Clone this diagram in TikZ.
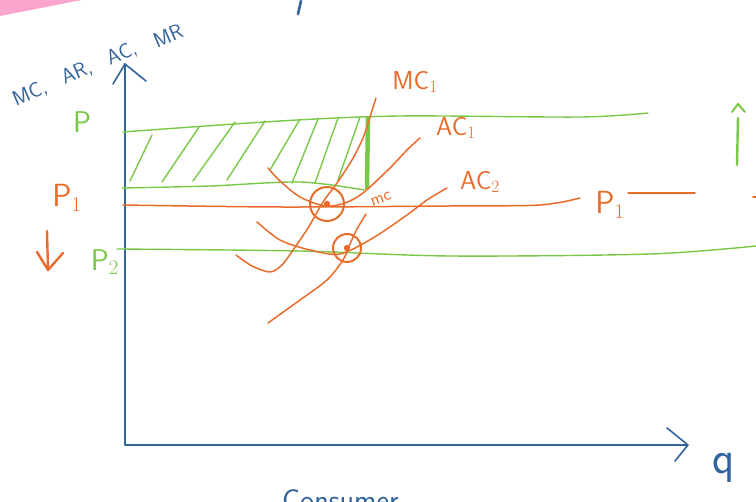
\documentclass[tikz,border=0pt]{standalone}
\usetikzlibrary{calc}
\definecolor{axisblue}{RGB}{50,100,155}
\definecolor{sgreen}{RGB}{122,200,72}
\definecolor{sorange}{RGB}{234,108,42}
\definecolor{spink}{RGB}{250,165,205}
\begin{document}
\begin{tikzpicture}[x=1pt,y=-1pt,line cap=round,line join=round,
  axisln/.style={axisblue,line width=1.6pt},
  gln/.style={sgreen,line width=1.4pt},
  gthick/.style={sgreen,line width=4.5pt},
  oln/.style={sorange,line width=1.5pt},
  otxt/.style={sorange,font=\sffamily\fontsize{26}{28}\selectfont,inner sep=0pt},
  gtxt/.style={sgreen,font=\sffamily\fontsize{30}{32}\selectfont,inner sep=0pt},
  btxt/.style={axisblue,font=\sffamily\fontsize{21}{23}\selectfont,inner sep=0pt,rotate=23}]
\useasboundingbox (0,0) rectangle (756,502);
\fill[white] (0,0) rectangle (756,502);
% pink highlight and top stroke
\fill[spink] (0,0) -- (82,0) -- (0,16) -- cycle;
\draw[axisblue,line width=2.6pt] (301,1) -- (298,14);
% axes
\coordinate (O) at (125,445);
\coordinate (ytop) at (125,64);
\coordinate (xend) at (687,445);
\draw[axisln] (ytop) -- (O) -- (xend);
\draw[axisln] (113,84) -- (ytop) -- (146,81);
\draw[axisln] (667,428) -- (688,445) -- (675,461);
\node[btxt] (ylab1) at (30,94) {MC,};
\node[btxt] (ylab2) at (77,73) {AR,};
\node[btxt] (ylab3) at (122,54) {AC,};
\node[btxt] (ylab4) at (168,36) {MR};
\node[axisblue,font=\sffamily\fontsize{46}{48}\selectfont,inner sep=0pt] (qlab) at (724,468) {q};
\node[axisblue,font=\sffamily\fontsize{30}{32}\selectfont,inner sep=0pt,anchor=base west] (blab) at (282,511) {Consumer};
% green price lines
\draw[gln] plot[smooth] coordinates {(123,132) (280,121) (400,116) (580,117) (648,113)};
\draw[gln] plot[smooth] coordinates {(122,188) (210,186) (300,182) (364,190)};
\draw[gln] plot[smooth] coordinates {(117,249) (300,251) (450,256) (650,254) (756,246)};
% hatching
\foreach \a/\b/\c/\d in {130/181/152/135, 162/182/199/127, 193/181/235/122, 227/180/265/121,
  270/170/300/119, 292/183/318/119, 315/183/338/118, 338/180/360/117}
  \draw[gln] (\a,\b) -- (\c,\d);
\draw[gthick] (368,118) -- (367,188);
% orange P1 line
\draw[oln] plot[smooth] coordinates {(123,205) (280,207) (450,206) (540,205) (580,198)};
\draw[oln] (628,193) -- (695,193);
\draw[oln] (753,197) -- (756,197);
% curves
\draw[oln] plot[smooth] coordinates {(268,168) (280,181) (300,197) (325,206) (345,203) (363,193) (390,168) (407,150) (420,138)};
\draw[oln] plot[smooth] coordinates {(236,255) (252,266) (270,272) (282,265) (293,250) (308,228) (323,202) (337,183) (352,160) (363,138) (370,117) (376,98)};
\draw[oln] plot[smooth] coordinates {(257,222) (280,240) (310,250) (340,254) (373,238) (407,215) (427,200) (447,188)};
\draw[oln] plot[smooth] coordinates {(268,323) (300,300) (327,280) (343,260) (350,244) (357,229) (366,214)};
% circles
\draw[oln,line width=2pt] (327,204) circle (17);
\fill[sorange] (327,204) circle (3.2);
\draw[oln,line width=2pt] (347,248) circle (14);
\fill[sorange] (347,248) circle (3.2);
% orange labels
\node[otxt] (mc1) at (415,82) {MC$_1$};
\node[otxt] (ac1) at (456,128) {AC$_1$};
\node[otxt] (ac2) at (480,182) {AC$_2$};
\node[otxt,font=\sffamily\fontsize{18}{20}\selectfont,rotate=20] (mclab) at (381,199) {mc};
\node[otxt,font=\sffamily\fontsize{32}{34}\selectfont] (p1l) at (67,198) {P$_1$};
\node[otxt,font=\sffamily\fontsize{32}{34}\selectfont] (p1r) at (610,205) {P$_1$};
\draw[oln,line width=2.4pt] (47,231) -- (48,269);
\draw[oln,line width=2.4pt] (37,252) -- (48,270) -- (63,253);
% green labels
\node[gtxt] (plab) at (82,122) {P};
\node[gtxt] (p2lab) at (105,262) {P$_2$};
\draw[gln,line width=2.4pt] (738,118) -- (737,165);
\draw[gln,line width=2pt] (732,112) -- (738,104) -- (745,112);
\end{tikzpicture}
\end{document}
